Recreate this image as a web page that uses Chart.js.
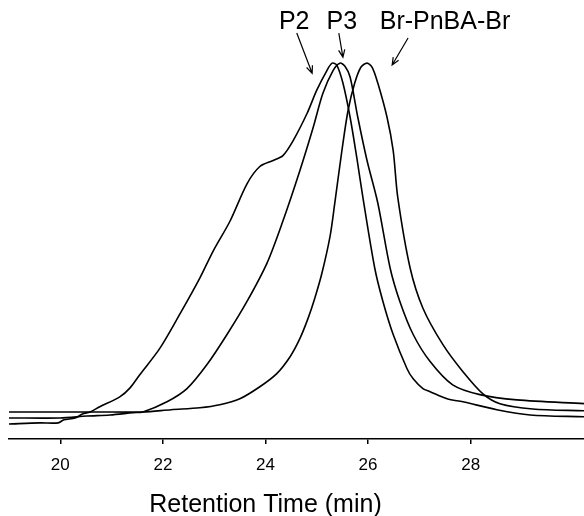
<!DOCTYPE html>
<html>
<head>
<meta charset="utf-8">
<script src="https://cdn.jsdelivr.net/npm/chart.js@4.4.1/dist/chart.umd.min.js"></script>
<style>
  html, body { margin: 0; padding: 0; background: #fff; }
  #wrap { width: 584px; height: 516px; }
</style>
</head>
<body>
<div id="wrap"><canvas id="gpcChart"></canvas></div>
<script>
// retention time (min) and detector signal (normalised, peak = 100)
const p2Time = [19.00, 19.60, 19.96, 20.07, 20.29, 20.44, 20.58, 20.77, 21.16, 21.36, 21.55, 21.94, 22.33, 22.72, 22.98, 23.31, 23.64, 23.89, 24.15, 24.34, 24.54, 24.81, 25.00, 25.20, 25.30, 25.39, 25.51, 25.65, 25.78, 25.90, 26.13, 26.29, 26.49, 26.76, 26.88, 27.07, 27.21, 27.54, 27.85, 28.51, 29.16, 30.21];
const p2Signal = [4.0, 4.3, 4.3, 5.1, 5.6, 6.7, 7.2, 8.6, 11.2, 13.6, 17.1, 24.1, 33.2, 42.8, 50.0, 58.0, 67.9, 72.5, 74.1, 75.4, 79.4, 86.6, 92.8, 98.1, 100, 99.5, 94.7, 85.6, 74.9, 64.2, 45.5, 36.6, 27.8, 18.7, 16.0, 13.4, 12.6, 10.7, 9.9, 7.8, 6.4, 5.9];

const p3Time = [19.00, 19.99, 20.52, 20.97, 21.42, 21.61, 22.08, 22.47, 22.86, 23.25, 23.64, 24.03, 24.34, 24.67, 24.93, 25.12, 25.32, 25.45, 25.55, 25.65, 25.80, 25.98, 26.19, 26.43, 26.62, 26.88, 27.21, 27.65, 28.18, 28.90, 30.21];
const p3Signal = [5.6, 5.6, 6.1, 6.4, 7.0, 7.2, 9.9, 13.4, 19.8, 27.8, 36.6, 46.8, 58.0, 71.4, 82.9, 92.0, 98.1, 100, 99.2, 96.3, 85.6, 74.1, 62.8, 45.5, 36.6, 27.8, 20.6, 14.4, 11.8, 10.4, 9.4];

const brTime = [19.00, 19.99, 20.77, 21.61, 22.16, 22.72, 23.11, 23.50, 23.89, 24.22, 24.48, 24.67, 24.83, 24.96, 25.10, 25.26, 25.35, 25.49, 25.61, 25.74, 25.86, 25.98, 26.08, 26.19, 26.37, 26.49, 26.58, 26.82, 27.07, 27.46, 27.85, 28.24, 28.57, 29.21, 30.21];
const brSignal = [7.2, 7.2, 7.2, 7.2, 7.8, 8.3, 9.1, 10.7, 13.9, 17.4, 21.9, 26.7, 32.1, 37.4, 44.1, 54.0, 62.6, 76.7, 87.4, 94.7, 98.9, 100, 98.9, 94.7, 85.6, 76.7, 64.2, 45.5, 34.8, 25.1, 17.9, 12.0, 9.4, 8.0, 7.5];

const xTicks = [20, 22, 24, 26, 28];
const xTitle = 'Retention Time (min)';

// peak labels with arrows: [text, textX, textY, arrowFromX, arrowFromY, arrowToX, arrowToY]
const peakLabels = [
  ['P2', 24.56, 111, 24.61, 108.0, 24.91, 97.3],
  ['P3', 25.49, 111, 25.43, 108.0, 25.51, 101.6],
  ['Br-PnBA-Br', 27.50, 111, 26.78, 106.7, 26.47, 99.5]
];

const FONT = '"Liberation Sans", Arial, sans-serif';

const toPoints = (xs, ys) => xs.map((x, i) => ({ x: x, y: ys[i] }));

const lineStyle = {
  borderColor: '#000',
  borderWidth: 1.6,
  pointRadius: 0,
  fill: false,
  tension: 0.3
};

const labelPlugin = {
  id: 'peakLabels',
  afterDraw(chart) {
    const ctx = chart.ctx;
    const xs = chart.scales.x, ys = chart.scales.y;
    ctx.save();
    ctx.fillStyle = '#000';
    ctx.strokeStyle = '#000';
    ctx.lineWidth = 1.2;
    ctx.font = '25px ' + FONT;
    ctx.textAlign = 'center';
    ctx.textBaseline = 'middle';
    peakLabels.forEach(l => {
      ctx.fillText(l[0], xs.getPixelForValue(l[1]), ys.getPixelForValue(l[2]));
      const x1 = xs.getPixelForValue(l[3]), y1 = ys.getPixelForValue(l[4]);
      const x2 = xs.getPixelForValue(l[5]), y2 = ys.getPixelForValue(l[6]);
      ctx.beginPath();
      ctx.moveTo(x1, y1);
      ctx.lineTo(x2, y2);
      const a = Math.atan2(y2 - y1, x2 - x1);
      const h = 8;
      ctx.moveTo(x2 - h * Math.cos(a - 0.4), y2 - h * Math.sin(a - 0.4));
      ctx.lineTo(x2, y2);
      ctx.lineTo(x2 - h * Math.cos(a + 0.4), y2 - h * Math.sin(a + 0.4));
      ctx.stroke();
    });
    // axis title, centred on 24 min like the original (axis runs past the crop)
    ctx.fillText(xTitle, xs.getPixelForValue(24), chart.chartArea.bottom + 66);
    ctx.restore();
  }
};

new Chart(document.getElementById('gpcChart'), {
  type: 'line',
  data: {
    datasets: [
      Object.assign({ label: 'P2', data: toPoints(p2Time, p2Signal) }, lineStyle),
      Object.assign({ label: 'P3', data: toPoints(p3Time, p3Signal) }, lineStyle),
      Object.assign({ label: 'Br-PnBA-Br', data: toPoints(brTime, brSignal) }, lineStyle)
    ]
  },
  options: {
    responsive: true,
    maintainAspectRatio: false,
    animation: false,
    layout: { padding: { left: 9, right: 0, top: 0, bottom: 29.6 } },
    plugins: { legend: { display: false }, tooltip: { enabled: false } },
    scales: {
      x: {
        type: 'linear',
        min: 19,
        max: 30.21,
        afterBuildTicks: (scale) => { scale.ticks = xTicks.map(v => ({ value: v })); },
        border: { display: true, color: '#000', width: 1.5 },
        grid: { display: true, drawOnChartArea: false, drawTicks: true, tickLength: 5, color: '#000', lineWidth: 1.5 },
        ticks: {
          color: '#000',
          padding: 11,
          maxRotation: 0,
          font: { family: FONT, size: 17 }
        },
        title: { display: false }
      },
      y: {
        display: false,
        min: 0,
        max: 116.8
      }
    }
  },
  plugins: [labelPlugin]
});
</script>
</body>
</html>
